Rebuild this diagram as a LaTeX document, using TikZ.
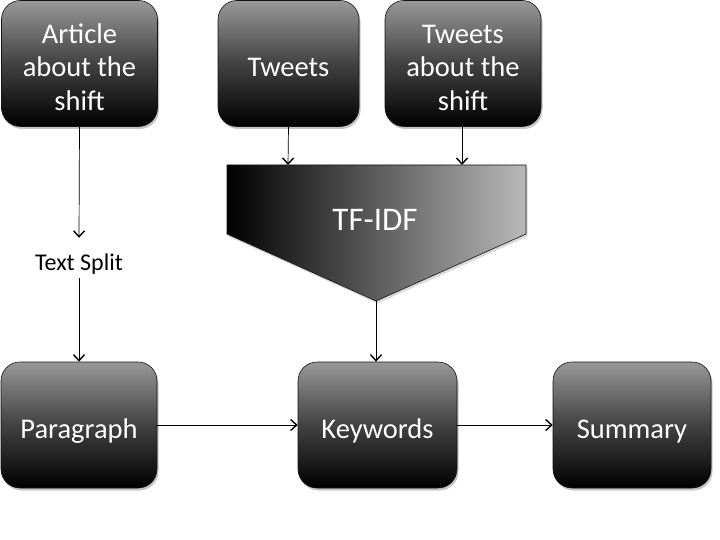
\documentclass[tikz,border=0pt]{standalone}
\usepackage{fontspec}
\setmainfont{Carlito}
\usetikzlibrary{arrows.meta,shadows}
\definecolor{boxtop}{RGB}{152,152,152}
\definecolor{boxmid}{RGB}{66,66,66}
\definecolor{tfright}{RGB}{185,185,185}
\newcommand{\boxtext}[1]{\raisebox{-6.5pt}[\height][\depth]{\begin{tabular}{@{}c@{}}#1\end{tabular}}}
\tikzset{
  procbox/.style={draw={rgb,255:red,20;green,20;blue,20}, line width=0.6pt, rounded corners=19pt,
    top color=boxtop, bottom color=black, middle color=boxmid,
    drop shadow={opacity=0.45, shadow xshift=1.5pt, shadow yshift=-2.5pt},
    text=white, font=\fontsize{28.5}{33.5}\selectfont, inner sep=0pt,
    minimum height=126pt},
  arr/.style={draw=black, line width=0.7pt, -{Straight Barb[length=6pt,width=11pt,line width=1.4pt]}},
}
\begin{document}
\begin{tikzpicture}[x=1pt,y=-1pt]
\useasboundingbox (0,0) rectangle (720,540);
% top row
\node[procbox, minimum width=156pt] (article) at (79.5,63.5) {\boxtext{Article\\about the\\shift}};
\node[procbox, minimum width=141pt] (tweets) at (288.5,63.5) {\boxtext{Tweets}};
\node[procbox, minimum width=156pt] (tweetsab) at (463,63.5) {\boxtext{Tweets\\about the\\shift}};
% TF-IDF shape
\path[draw={rgb,255:red,20;green,20;blue,20}, line width=0.6pt, left color=black, right color=tfright,
  drop shadow={opacity=0.3, shadow xshift=1.5pt, shadow yshift=-2.5pt}]
  (227,165) -- (526,165) -- (526,234) -- (376,301) -- (227,234) -- cycle;
\node[text=white, font=\fontsize{33}{36}\selectfont] (tfidf) at (375,220) {TF-IDF};
\coordinate (tin1) at (288,165);
\coordinate (tin2) at (462,165);
\coordinate (tout) at (376,301);
% bottom row
\node[procbox, minimum width=156pt] (para) at (79,425) {\boxtext{Paragraph}};
\node[procbox, minimum width=159pt] (keys) at (377.5,425) {\boxtext{Keywords}};
\node[procbox, minimum width=158pt] (summ) at (632,425) {\boxtext{Summary}};
% text split label
\node[anchor=base, inner sep=0pt, text height=32pt, text depth=8pt,
  font=\fontsize{24}{28}\selectfont] (split) at (79,270) {Text Split};
% connectors
\draw[arr] (article.south) -- (split.north);
\draw[arr] (split.south) -- (para.north);
\draw[arr] (tweets.south) -- (tin1);
\draw[arr] (tweetsab.south -| tin2) -- (tin2);
\draw[arr] (tout) -- (keys.north -| tout);
\draw[arr] (para.east) -- (keys.west);
\draw[arr] (keys.east) -- (summ.west);
\end{tikzpicture}
\end{document}
